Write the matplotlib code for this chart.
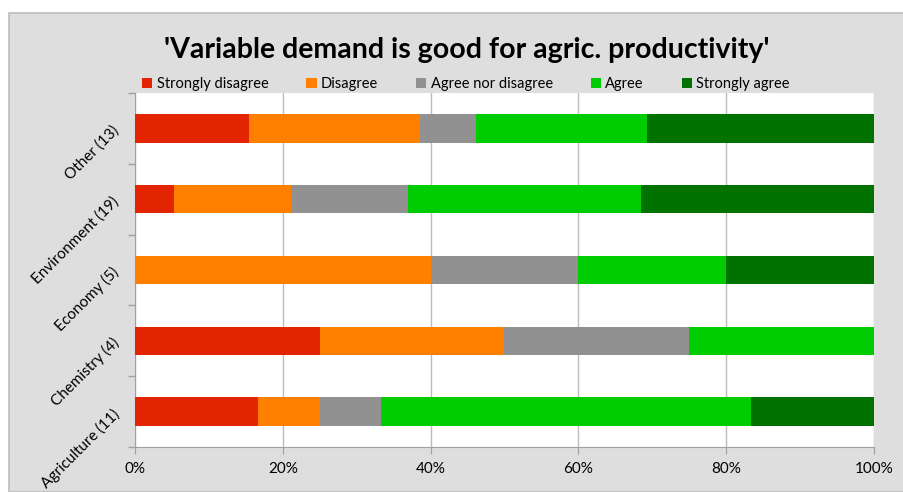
import matplotlib
matplotlib.use("Agg")
import matplotlib.pyplot as plt
from matplotlib.patches import Rectangle
from matplotlib.ticker import FuncFormatter, FixedLocator
import numpy as np

categories = ["Agriculture (11)", "Chemistry (4)", "Economy (5)", "Environment (19)", "Other (13)"]
series_names = ["Strongly disagree", "Disagree", "Agree nor disagree", "Agree", "Strongly agree"]
strongly_disagree = [16.7, 25.0, 0.0, 5.3, 15.4]
disagree = [8.3, 25.0, 40.0, 15.8, 23.1]
neutral = [8.3, 25.0, 20.0, 15.8, 7.7]
agree = [50.0, 25.0, 20.0, 31.6, 23.1]
strongly_agree = [16.7, 0.0, 20.0, 31.5, 30.7]
colors = ["#e32400", "#ff7f00", "#919191", "#00cc00", "#007200"]
xticks = [0, 20, 40, 60, 80, 100]

plt.rcParams['font.family'] = ['Lato', 'DejaVu Sans']

fig = plt.figure(figsize=(9.04, 4.92), dpi=100)
fig.patch.set_facecolor("white")
# gray chart panel
fig.patches.append(Rectangle((9/904, 0), 1, 1 - 13/492, transform=fig.transFigure,
                             facecolor="#dedede", edgecolor="#bdbdbd", linewidth=1.2, zorder=-10))

ax = fig.add_axes([135/904, 1 - 447/492, (874 - 135)/904, (447 - 93)/492])
ax.set_zorder(1)
ax.set_facecolor("white")

series = [strongly_disagree, disagree, neutral, agree, strongly_agree]
y = np.arange(len(categories))
left = np.zeros(len(categories))
handles = []
for name, vals, c in zip(series_names, series, colors):
    vals = np.array(vals)
    h = ax.barh(y, vals, left=left, height=0.4, color=c, label=name, zorder=3, linewidth=0)
    handles.append(h)
    left += vals

ax.set_xlim(0, 100)
ax.set_ylim(-0.5, len(categories) - 0.5)
ax.set_xticks(xticks)
ax.xaxis.set_major_formatter(FuncFormatter(lambda v, p: f"{int(v)}%"))
ax.grid(axis="x", color="#bcbcbc", linewidth=1, zorder=1)
ax.set_yticks(y)
ax.set_yticklabels(categories, rotation=45, ha="right", va="center", rotation_mode="anchor", fontsize=11)
ax.tick_params(axis="y", length=0, pad=13)
ax.yaxis.set_minor_locator(FixedLocator(np.arange(-0.5, len(categories), 1.0)))
ax.tick_params(axis="y", which="minor", length=5, color="#a0a0a0", width=1)
ax.tick_params(axis="x", length=5, color="#a0a0a0", labelsize=11, pad=6)
for s in ["top", "right"]:
    ax.spines[s].set_visible(False)
for s in ["left", "bottom"]:
    ax.spines[s].set_color("#a0a0a0")

fig.text(467/904, 1 - 50/492, "'Variable demand is good for agric. productivity'", ha="center", va="center",
         fontsize=20.5, fontweight="bold")

leg = fig.legend(handles=handles, labels=series_names, loc="center", bbox_to_anchor=(466/904, 1 - 84/492),
                 ncol=5, frameon=False, fontsize=10.5, handlelength=0.7, handleheight=0.7,
                 handletextpad=0.3, columnspacing=2.6)

fig.savefig("out.png", dpi=100)
